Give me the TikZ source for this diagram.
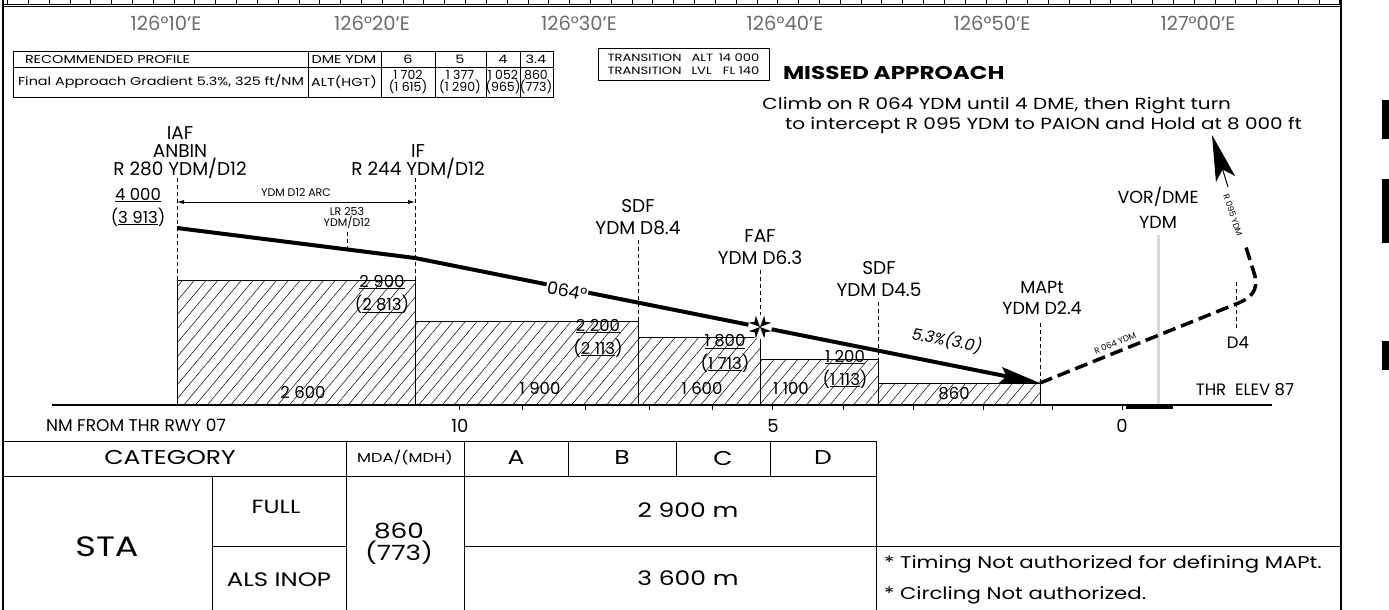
\documentclass[tikz,border=0pt]{standalone}
\usepackage{fontspec}
\setmainfont{Poppins}
\newfontfamily\widefont[FakeStretch=1.25]{Poppins}
\usetikzlibrary{arrows.meta,patterns.meta}
\definecolor{latgray}{gray}{0.42}
\definecolor{vorgray}{gray}{0.85}

\begin{document}
\begin{tikzpicture}[x=1pt, y=-1pt,
  every node/.style={inner sep=0pt, outer sep=0pt},
  fixlbl/.style={align=center, font=\fontsize{18.5}{22}\selectfont},
  altlbl/.style={align=center, font=\fontsize{16.5}{23}\selectfont},
  numlbl/.style={font=\fontsize{16.5}{16.5}\selectfont},
  smalllbl/.style={align=center, font=\fontsize{11}{10.5}\selectfont},
  routelbl/.style={font=\fontsize{8.5}{8.5}\selectfont, fill=white, inner sep=1pt},
  latlbl/.style={text=latgray, font=\fontsize{19.5}{19.5}\selectfont},
  proflbl/.style={font=\widefont\fontsize{11.5}{12}\selectfont, align=center},
  profnum/.style={font=\fontsize{12.5}{12.5}\selectfont, align=center},
  cell/.style={font=\widefont\fontsize{20}{20}\selectfont},
  fixline/.style={line width=0.6pt, dash pattern=on 4pt off 3pt},
  obst/.style={draw, line width=0.8pt, pattern={Lines[angle=50,distance=9pt,line width=0.5pt]}},
  profline/.style={line width=4pt},
  missed/.style={line width=3.5pt, dash pattern=on 13pt off 6pt},
  tline/.style={line width=0.8pt}]
  \useasboundingbox (0,0) rectangle (1389,610);

  % frame and longitude strip
  \foreach \i in {0,...,64}
    \draw[line width=0.6pt] ({7.4+20.817*\i},0) -- ({7.4+20.817*\i},4.3);
  \draw[line width=0.8pt] (3,4.3) -- (1341,4.3);
  \draw[line width=0.8pt] (3,6.6) -- (1341,6.6);
  \draw[line width=2pt] (3,0) -- (3,610);
  \draw[line width=1.5pt] (1341,0) -- (1341,610);
  \foreach \t/\x [count=\k] in {126°10'E/166, 126°20'E/372, 126°30'E/579,
      126°40'E/785, 126°50'E/992, 127°00'E/1198}
    \node[latlbl] (lat\k) at (\x,23) {\t};
  \fill (1382,100) rectangle (1389,139);
  \fill (1382,179) rectangle (1389,243);
  \fill (1382,341) rectangle (1389,370);

  % recommended profile table
  \draw[tline] (13,51) rectangle (553,97);
  \draw[tline] (13,67) -- (553,67);
  \foreach \x in {308,381,435,486,520} \draw[tline] (\x,51) -- (\x,97);
  \node[proflbl, anchor=west] (rp) at (25,59) {RECOMMENDED PROFILE};
  \node[proflbl, anchor=west] (fag) at (18,82) {Final Approach Gradient 5.3\%, 325 ft/NM};
  \node[proflbl] (dme) at (344,59) {DME YDM};
  \node[proflbl] (alt) at (344,82) {ALT(HGT)};
  \node[proflbl] (d6) at (408,59) {6};
  \node[proflbl] (d5) at (460,59) {5};
  \node[proflbl] (d4t) at (503,59) {4};
  \node[proflbl] (d34) at (536,59) {3.4};
  \node[profnum] (a6) at (408,82) {1 702\\(1 615)};
  \node[profnum] (a5) at (460,82) {1 377\\(1 290)};
  \node[profnum] (a4) at (503,82) {1 052\\(965)};
  \node[profnum] (a34) at (536,82) {860\\(773)};

  % transition and missed approach
  \draw[tline] (598,48) rectangle (769,80);
  \begin{scope}[every node/.style={font=\widefont\fontsize{10.5}{10.5}\selectfont}]
    \node[anchor=west] (tr1) at (604,58) {TRANSITION};
    \node[anchor=west] (tr2) at (604,71) {TRANSITION};
    \node[anchor=west] (tra) at (688,58) {ALT};
    \node[anchor=west] (trl) at (688,71) {LVL};
    \node[anchor=east] (trv) at (763,58) {14 000};
    \node[anchor=east] (trf) at (763,71) {FL 140};
  \end{scope}
  \node[anchor=west, font=\widefont\bfseries\fontsize{18.5}{18.5}\selectfont] (ma) at (783,73) {MISSED APPROACH};
  \node[anchor=east, font=\widefont\fontsize{16}{16}\selectfont] (ma1) at (1231,106)
    {Climb on R 064 YDM until 4 DME, then Right turn};
  \node[anchor=east, font=\widefont\fontsize{16}{16}\selectfont] (ma2) at (1302,125)
    {to intercept R 095 YDM to PAION and Hold at 8 000 ft};

  % fixes
  \coordinate (iaf) at (177,228);
  \coordinate (if) at (415,258);
  \coordinate (faf) at (760,327);
  \coordinate (mapt) at (1040,383);
  \coordinate (dfour) at (1236,304);
  \coordinate (turn) at (1245,244);

  % obstacle boxes
  \draw[obst] (177,405) rectangle (415,280);
  \draw[obst] (415,405) rectangle (638,321);
  \draw[obst] (638,405) rectangle (760,337);
  \draw[obst] (760,405) rectangle (878,359);
  \draw[obst] (878,405) rectangle (1040,383);

  % fix lines
  \draw[fixline] (177,178) -- (177,280);
  \draw[fixline] (415,178) -- (415,280);
  \draw[fixline] (638,240) -- (638,321);
  \draw[fixline] (760,270) -- (760,337);
  \draw[fixline] (878,302) -- (878,359);
  \draw[fixline] (1040,323) -- (mapt);
  \draw[fixline] (1236,282) -- (1236,328);
  \draw[fixline] (347,232) -- (347,248);
  \draw[line width=3pt, vorgray] (1158,235) -- (1158,405);

  % ground and distance scale
  \draw[line width=1.2pt] (52,405) -- (1272,405);
  \fill (1126,405) rectangle (1173,408.5);
  \foreach \x in {459,522,585,649,712,772,843,913,983,1052,1122}
    \draw[line width=0.6pt] (\x,405) -- (\x,410);
  \node[font=\fontsize{17}{17}\selectfont] (nm) at (136,425) {NM FROM THR RWY 07};
  \node[font=\fontsize{18}{18}\selectfont] (n10) at (460,426) {10};
  \node[font=\fontsize{18}{18}\selectfont] (n5) at (773,426) {5};
  \node[font=\fontsize{18}{18}\selectfont] (n0) at (1122,426) {0};
  \node[font=\fontsize{16.5}{16.5}\selectfont] (thr) at (1245,390) {THR\ \ ELEV 87};

  % arc
  \draw[line width=0.7pt, {Latex[length=7pt,width=4pt]}-{Latex[length=7pt,width=4pt]}] (177,202) -- (415,202);
  \node[smalllbl] (arc) at (296,192) {YDM D12 ARC};
  \node[smalllbl] (lr) at (347,218) {LR 253\\YDM/D12};

  % profile
  \draw[profline] (iaf) -- (if) -- (faf);
  \draw[profline, -{Stealth[length=40pt,width=16pt,inset=6pt]}] (faf) -- (mapt);
  \node[fill=white, inner sep=1pt, rotate=-11, font=\fontsize{17.5}{17.5}\selectfont] (crs) at (567,291) {064°};
  \node[rotate=-11, font=\itshape\fontsize{16}{16}\selectfont] (grad) at (947,340) {5.3\%(3.0)};
  \fill[white] (faf) circle[radius=12pt];
  \foreach \a in {45,135,225,315}
    \fill[rotate around={\a:(faf)}] (faf) -- ++(11,5) -- ++(-3.5,-5) -- ++(3.5,-5) -- cycle;

  % missed approach track
  \draw[missed] (mapt) -- (dfour) .. controls (1252,298) and (1258,290) .. (1255,276) -- (turn);
  \node[routelbl, rotate=22] (r064) at (1115,343) {R 064 YDM};
  \node[routelbl, rotate=-72] (r095) at (1233,215) {R 095 YDM};
  \draw[line width=1pt, -{Stealth[length=46pt,width=20pt,inset=10pt]}] (1228,187) -- (1212,135);

  % fix labels
  \node[fixlbl, font=\fontsize{18.5}{18}\selectfont, anchor=north] (iafl) at (180,127) {IAF\\ANBIN\\R 280 YDM/D12};
  \node[fixlbl, font=\fontsize{18.5}{18}\selectfont, anchor=north] (ifl) at (418,145) {IF\\R 244 YDM/D12};
  \node[fixlbl, anchor=north] (sdf1) at (638,199) {SDF\\YDM D8.4};
  \node[fixlbl, anchor=north] (fafl) at (760,230) {FAF\\YDM D6.3};
  \node[fixlbl, anchor=north] (sdf2) at (879,261) {SDF\\YDM D4.5};
  \node[fixlbl, font=\fontsize{17.5}{21}\selectfont, anchor=north] (maptl) at (1042,281) {MAPt\\YDM D2.4};
  \node[fixlbl, font=\fontsize{17.5}{25}\selectfont, anchor=north] (vor) at (1158,187) {VOR/DME\\YDM};
  \node[numlbl] (d4l) at (1238,343) {D4};

  % altitudes
  \node[altlbl, anchor=north] (alt1) at (138,188) {\underline{4 000}\\(\underline{3 913})};
  \node[altlbl, anchor=north] (alt2) at (382,275) {\underline{2 900}\\(\underline{2 813})};
  \node[altlbl, anchor=north] (alt3) at (598,319) {\underline{2 200}\\(\underline{2 113})};
  \node[altlbl, anchor=north] (alt4) at (725,334) {\underline{1 800}\\(\underline{1 713})};
  \node[altlbl, anchor=north] (alt5) at (845,350) {\underline{1 200}\\(\underline{1 113})};
  \node[numlbl] (o1) at (303,392) {2 600};
  \node[numlbl] (o2) at (540,388) {1 900};
  \node[numlbl] (o3) at (702,388) {1 600};
  \node[numlbl] (o4) at (791,388) {1 100};
  \node[numlbl] (o5) at (954,394) {860};

  % minima table
  \draw[tline] (3,441) -- (876,441);
  \draw[tline] (3,476) -- (876,476);
  \draw[tline] (212,546) -- (346,546);
  \draw[tline] (464,546) -- (1341,546);
  \foreach \x in {346,464,876} \draw[tline] (\x,441) -- (\x,610);
  \foreach \x in {568,676,770} \draw[tline] (\x,441) -- (\x,476);
  \draw[tline] (212,476) -- (212,610);
  \node[cell] (cat) at (170,458) {CATEGORY};
  \node[font=\widefont\fontsize{13}{13}\selectfont] (mda) at (405,458) {MDA/(MDH)};
  \node[cell] (ca) at (516,458) {A};
  \node[cell] (cb) at (622,458) {B};
  \node[cell] (cc) at (723,458) {C};
  \node[cell] (cd) at (823,458) {D};
  \node[font=\widefont\fontsize{28}{28}\selectfont] (sta) at (107,547) {STA};
  \node[font=\widefont\fontsize{19}{19}\selectfont] (full) at (276,507) {FULL};
  \node[font=\widefont\fontsize{19.5}{19.5}\selectfont] (als) at (279,580) {ALS INOP};
  \node[align=center, font=\widefont\fontsize{21}{22}\selectfont] (mdav) at (399,544) {860\\(773)};
  \node[cell] (vis1) at (688,510) {2 900 m};
  \node[cell] (vis2) at (688,578) {3 600 m};
  \node[anchor=west, font=\widefont\fontsize{17}{17}\selectfont] (note1) at (884,564) {* Timing Not authorized for defining MAPt.};
  \node[anchor=west, font=\widefont\fontsize{17}{17}\selectfont] (note2) at (884,595) {* Circling Not authorized.};
\end{tikzpicture}
\end{document}
